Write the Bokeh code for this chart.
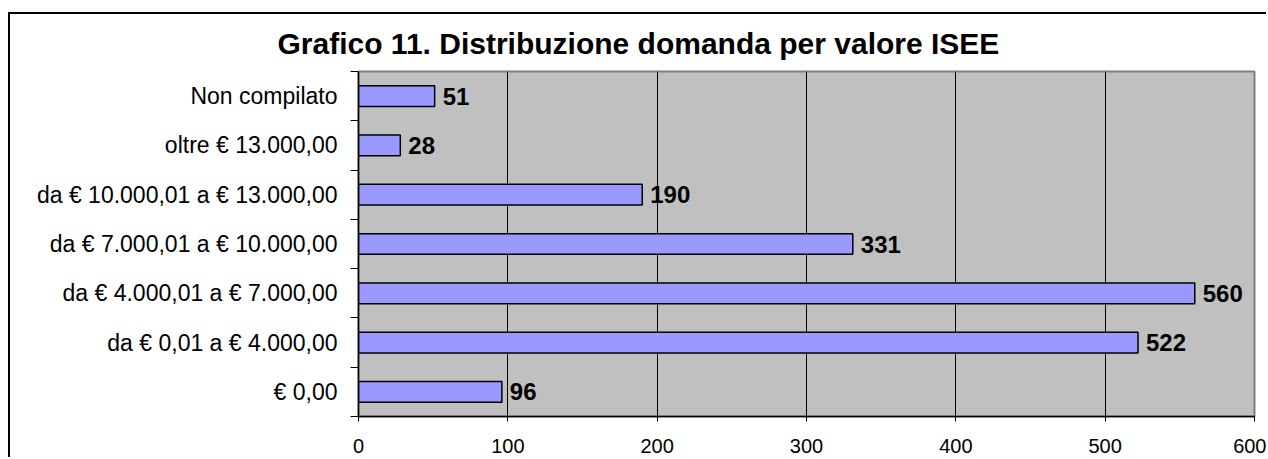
from bokeh.plotting import figure
from bokeh.models import ColumnDataSource, FixedTicker, Range1d, Title
from bokeh.core.properties import value
from bokeh.embed import file_html
from bokeh.resources import INLINE

categories = ["€ 0,00", "da € 0,01 a € 4.000,00", "da € 4.000,01 a € 7.000,00",
              "da € 7.000,01 a € 10.000,00", "da € 10.000,01 a € 13.000,00",
              "oltre € 13.000,00", "Non compilato"]
counts = [96, 522, 560, 331, 190, 28, 51]
x_ticks = [0, 100, 200, 300, 400, 500, 600]
title_text = "Grafico 11. Distribuzione domanda per valore ISEE"

pos = [i + 0.5 for i in range(len(categories))]
src = ColumnDataSource(dict(y=pos, v=counts, lbl=[str(c) for c in counts]))

FONT = "Liberation Sans"

p = figure(width=1258, height=445, output_backend="svg", toolbar_location=None,
           x_range=Range1d(0, 600), y_range=Range1d(0, len(categories)),
           min_border_left=348, min_border_right=14, min_border_top=57,
           min_border_bottom=43)
p.styles = {"margin-top": "12px", "margin-left": "8px",
            "border-left": "2px solid black", "border-top": "2px solid black"}

p.title = Title(text=title_text, align="left", offset=-81, standoff=19,
                vertical_align="top", text_line_height=0.8,
                text_font=FONT, text_font_size="30px", text_font_style="bold",
                text_color="black")

p.background_fill_color = "#C0C0C0"
p.border_fill_color = "white"
p.outline_line_color = "#808080"
p.outline_line_width = 2

p.hbar(y="y", right="v", left=0, height=0.42, source=src,
       fill_color="#9999FF", line_color="black", line_width=1.5)

p.text(x="v", y="y", text="lbl", source=src, x_offset=8,
       text_baseline="middle", text_align="left",
       text_font=value(FONT), text_font_size="24px", text_font_style="bold",
       text_color="black")

p.ygrid.grid_line_color = None
p.xgrid.grid_line_color = "black"
p.xgrid.grid_line_width = 1
p.xgrid.ticker = FixedTicker(ticks=x_ticks)

xa = p.xaxis[0]
xa.ticker = FixedTicker(ticks=x_ticks)
xa.axis_line_color = "black"
xa.axis_line_width = 1.5
xa.major_tick_in = 0
xa.major_tick_out = 5
xa.minor_tick_line_color = None
xa.major_label_text_font = FONT
xa.major_label_text_font_size = "20px"
xa.major_label_text_color = "black"
xa.major_label_standoff = 17

ya = p.yaxis[0]
ya.ticker = FixedTicker(ticks=pos, minor_ticks=list(range(len(categories) + 1)))
ya.major_label_overrides = {pos[i]: categories[i] for i in range(len(categories))}
ya.axis_line_color = "black"
ya.axis_line_width = 1.5
ya.major_tick_in = 0
ya.major_tick_out = 0
ya.minor_tick_in = 0
ya.minor_tick_out = 8
ya.minor_tick_line_color = "black"
ya.major_label_text_font = FONT
ya.major_label_text_font_size = "23px"
ya.major_label_text_color = "black"
ya.major_label_standoff = 13

open("out.html", "w").write(file_html(p, INLINE))
